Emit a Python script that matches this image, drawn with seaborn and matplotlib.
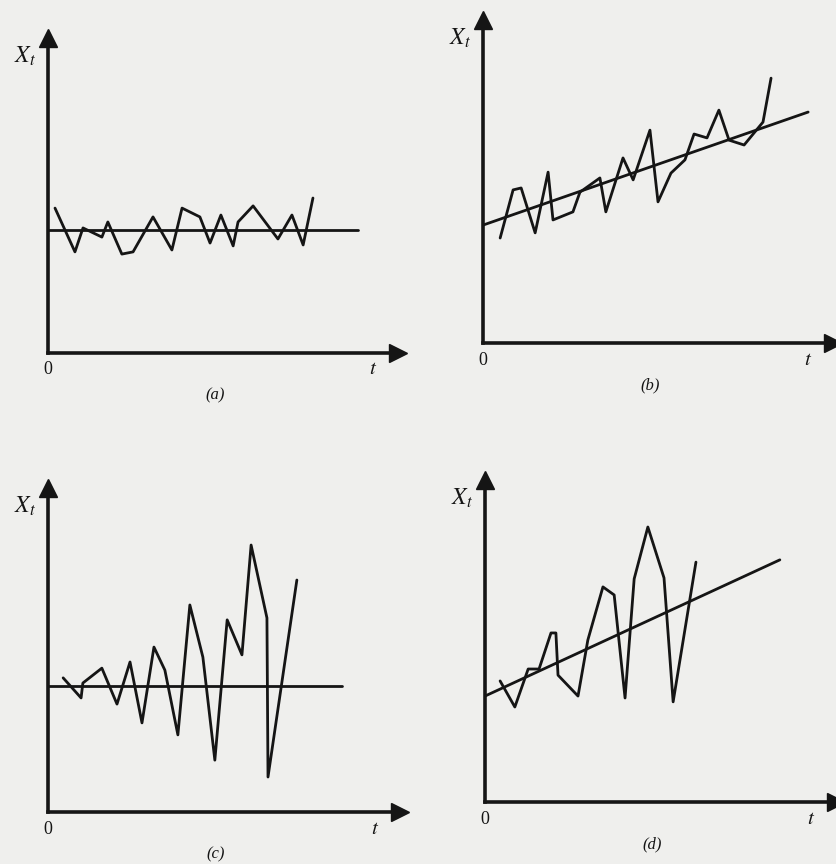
import matplotlib
matplotlib.use("Agg")
import matplotlib.pyplot as plt
import seaborn as sns

# (a) stationary series around a constant mean
a_t = [2.0, 7.7, 10.0, 15.4, 17.1, 21.1, 24.3, 30.0, 35.4, 38.3, 43.4, 46.3, 49.4, 52.9, 54.3, 58.6, 65.7, 69.7, 72.9, 75.7]
a_x = [46.0, 32.1, 39.7, 36.8, 41.6, 31.4, 32.1, 43.2, 32.7, 46.0, 43.2, 34.9, 43.8, 34.0, 41.6, 46.7, 36.2, 43.8, 34.3, 49.2]
a_line_t = [0, 88.6]
a_line_x = [39.0, 39.0]

# (b) series around a rising trend
b_t = [4.9, 8.6, 10.9, 14.9, 18.6, 20.0, 25.7, 27.7, 33.4, 35.1, 40.0, 42.9, 47.7, 50.0, 53.7, 57.7, 60.3, 64.0, 67.4, 70.3, 74.6, 80.0, 82.3]
b_x = [32.5, 47.4, 48.0, 34.1, 52.9, 38.1, 40.6, 46.7, 51.1, 40.6, 57.3, 50.5, 65.9, 43.7, 52.6, 56.7, 64.7, 63.5, 72.1, 62.8, 61.3, 68.4, 82.0]
b_line_t = [0, 92.9]
b_line_x = [36.5, 71.5]

# (c) constant mean, growing variance
c_t = [4.3, 9.4, 9.9, 15.3, 19.6, 23.3, 26.7, 30.1, 33.2, 36.9, 40.3, 44.0, 47.4, 50.9, 55.1, 57.7, 62.2, 62.5, 70.7]
c_x = [41.4, 35.2, 39.8, 44.4, 33.3, 46.3, 27.5, 50.9, 43.8, 23.8, 63.9, 47.8, 16.0, 59.3, 48.5, 82.4, 59.9, 10.8, 71.6]
c_line_t = [0, 83.5]
c_line_x = [38.9, 38.9]

# (d) rising trend, growing variance
d_t = [4.3, 8.5, 12.3, 15.4, 18.8, 20.2, 20.8, 26.5, 29.3, 33.6, 36.8, 39.9, 42.5, 46.4, 51.0, 53.6, 60.1]
d_x = [37.6, 29.5, 41.3, 41.3, 52.5, 52.5, 39.4, 32.9, 50.3, 66.8, 64.3, 32.3, 69.3, 85.4, 69.6, 31.1, 74.5]
d_line_t = [0, 84.0]
d_line_x = [32.9, 75.2]

panel_labels = ["(a)", "(b)", "(c)", "(d)"]

sns.set_style("white")
plt.rcParams["mathtext.fontset"] = "stix"
plt.rcParams["font.family"] = ["Liberation Serif", "DejaVu Serif"]

W, H = 836, 864
ink = "#151515"
bg = "#efefed"

fig = plt.figure(figsize=(W / 100, H / 100), dpi=100, facecolor=bg)

# origin x, origin y, width, height in pixels
boxes = [(48, 353, 350, 315), (483, 343, 350, 323), (48, 812, 352, 324), (485, 802, 351, 322)]
series = [(a_t, a_x, a_line_t, a_line_x), (b_t, b_x, b_line_t, b_line_x),
          (c_t, c_x, c_line_t, c_line_x), (d_t, d_x, d_line_t, d_line_x)]


def fx(px):
    return px / W


def fy(py):
    return 1 - py / H


for (ox, oy, w, h), (t, x, lt, lx), lab in zip(boxes, series, panel_labels):
    ax = fig.add_axes([fx(ox), fy(oy), w / W, h / H])
    ax.set_facecolor("none")
    sns.lineplot(x=t, y=x, ax=ax, color=ink, lw=2.0, sort=False)
    sns.lineplot(x=lt, y=lx, ax=ax, color=ink, lw=2.0, sort=False)
    ax.set_xlim(0, 100)
    ax.set_ylim(0, 100)
    ax.set_xticks([])
    ax.set_yticks([])
    for s in ["top", "right"]:
        ax.spines[s].set_visible(False)
    for s in ["left", "bottom"]:
        ax.spines[s].set_linewidth(2.6)
        ax.spines[s].set_color(ink)
    # arrow heads
    ax.plot(1, 0, ">", color=ink, ms=13, transform=ax.transAxes, clip_on=False)
    ax.plot(0, 1, "^", color=ink, ms=13, transform=ax.transAxes, clip_on=False)

    fig.text(fx(ox - 23), fy(oy - h + 18), r"$X_t$", fontsize=17, ha="center", va="center", color=ink)
    fig.text(fx(ox), fy(oy + 17), "0", fontsize=13, ha="center", va="center", color=ink)
    fig.text(fx(ox + w - 25), fy(oy + 17), r"$t$", fontsize=15, ha="center", va="center", color=ink)
    fig.text(fx(ox + w / 2 - 8), fy(oy + 42), lab, fontsize=12, ha="center", va="center",
             color=ink, style="italic")

fig.savefig("out.png", dpi=100, facecolor=bg)
